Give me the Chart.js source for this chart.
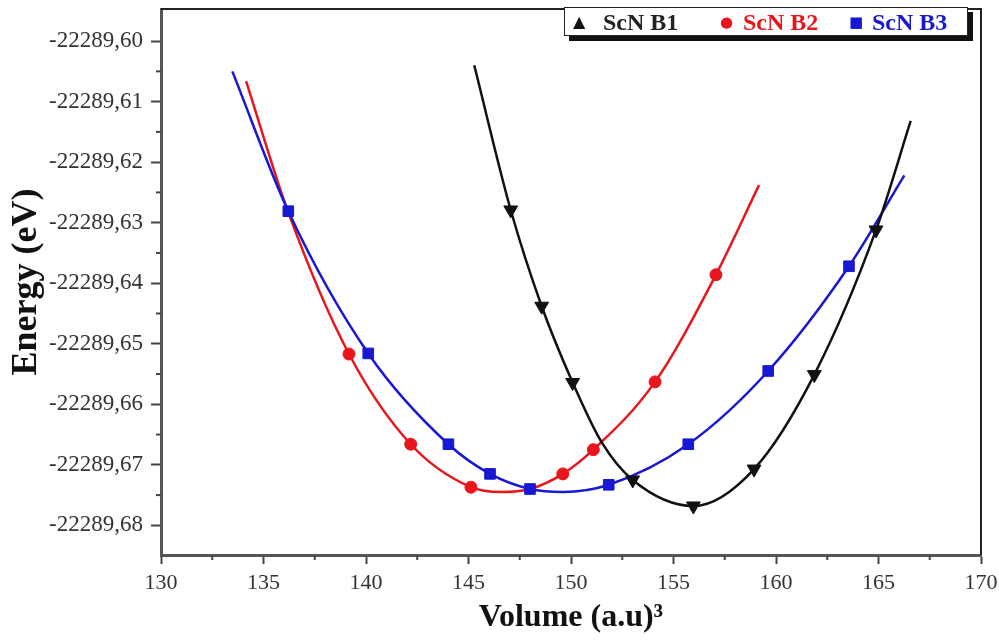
<!DOCTYPE html>
<html>
<head>
<meta charset="utf-8">
<script src="https://cdn.jsdelivr.net/npm/chart.js@4"></script>
<style>
    body { margin: 0; background: #fff; }
    #wrap { position: relative; width: 999px; height: 641px; }
    #legend {
        position: absolute; left: 564px; top: 7px; width: 402px; height: 27px;
        border: 1.5px solid #222; background: #fff; box-shadow: 5px 5px 0 #111;
        font-family: 'Liberation Serif', 'Times New Roman', serif; font-weight: bold; font-size: 24px;
    }
    #legend span { position: absolute; top: 0; line-height: 28px; white-space: nowrap; }
</style>
</head>
<body>
<div id="wrap">
    <canvas id="eosChart" width="999" height="641"></canvas>
    <div id="legend"></div>
</div>
<script>
// Axis ticks
const xTicks = [130, 135, 140, 145, 150, 155, 160, 165, 170];
const yTicks = [-22289.60, -22289.61, -22289.62, -22289.63, -22289.64, -22289.65, -22289.66, -22289.67, -22289.68];

// Legend names / colours
const seriesNames = ['ScN B1', 'ScN B2', 'ScN B3'];
const seriesColors = ['#111111', '#e8161c', '#1818d2'];

// ScN B1 - fitted curve and computed points
const b1CurveV = [145.28, 147.06, 148.57, 150.08, 151.5, 153.01, 155.97, 158.93, 161.87, 164.88, 166.57];
const b1CurveE = [-22289.6040, -22289.6279, -22289.6438, -22289.6564, -22289.6663, -22289.6725, -22289.6768, -22289.6707, -22289.6551, -22289.6312, -22289.6132];
const b1PointV = [147.06, 148.57, 150.08, 153.01, 155.97, 158.93, 161.87, 164.88];
const b1PointE = [-22289.6279, -22289.6438, -22289.6564, -22289.6725, -22289.6768, -22289.6707, -22289.6551, -22289.6312];

// ScN B2
const b2CurveV = [134.15, 136.21, 139.17, 142.18, 145.12, 146.6, 148.0, 149.6, 151.09, 154.1, 157.07, 159.17];
const b2CurveE = [-22289.6066, -22289.6283, -22289.6517, -22289.6666, -22289.6737, -22289.6745, -22289.6740, -22289.6715, -22289.6675, -22289.6563, -22289.6386, -22289.6238];
const b2PointV = [139.17, 142.18, 145.12, 149.6, 151.09, 154.1, 157.07];
const b2PointE = [-22289.6517, -22289.6666, -22289.6737, -22289.6715, -22289.6675, -22289.6563, -22289.6386];

// ScN B3
const b3CurveV = [133.48, 136.21, 140.11, 144.02, 146.05, 148.0, 149.6, 151.84, 155.72, 159.62, 163.56, 166.26];
const b3CurveE = [-22289.6050, -22289.6281, -22289.6516, -22289.6666, -22289.6715, -22289.6740, -22289.6745, -22289.6733, -22289.6666, -22289.6545, -22289.6372, -22289.6222];
const b3PointV = [136.21, 140.11, 144.02, 146.05, 148.0, 151.84, 155.72, 159.62, 163.56];
const b3PointE = [-22289.6281, -22289.6516, -22289.6666, -22289.6715, -22289.6740, -22289.6733, -22289.6666, -22289.6545, -22289.6372];

const toXY = (xs, ys) => xs.map((x, i) => ({ x: x, y: ys[i] }));

function curveSet(xs, ys, color) {
    return {
        data: toXY(xs, ys),
        borderColor: color,
        borderWidth: 2.5,
        pointRadius: 0,
        cubicInterpolationMode: 'monotone',
        fill: false
    };
}

function pointSet(xs, ys, color, style, radius, rotation) {
    return {
        data: toXY(xs, ys),
        showLine: false,
        pointStyle: style,
        pointRadius: radius,
        pointRotation: rotation || 0,
        pointBackgroundColor: color,
        pointBorderColor: color,
        pointBorderWidth: 1
    };
}

// frame around plot + minor ticks
const framePlugin = {
    id: 'frame',
    afterDraw(chart) {
        const { ctx, chartArea: a, scales } = chart;
        ctx.save();
        ctx.strokeStyle = '#444';
        ctx.lineWidth = 2;
        for (let i = 0; i < xTicks.length - 1; i++) {
            const px = scales.x.getPixelForValue((xTicks[i] + xTicks[i + 1]) / 2);
            ctx.beginPath(); ctx.moveTo(px, a.bottom); ctx.lineTo(px, a.bottom + 5); ctx.stroke();
        }
        for (let i = 0; i < yTicks.length - 1; i++) {
            const py = scales.y.getPixelForValue((yTicks[i] + yTicks[i + 1]) / 2);
            ctx.beginPath(); ctx.moveTo(a.left, py); ctx.lineTo(a.left - 5, py); ctx.stroke();
        }
        ctx.strokeStyle = '#222';
        ctx.lineWidth = 2;
        ctx.beginPath();
        ctx.moveTo(a.left, a.top); ctx.lineTo(a.right, a.top); ctx.lineTo(a.right, a.bottom);
        ctx.stroke();
        ctx.restore();
    }
};

const serif = "'Liberation Serif', 'Times New Roman', serif";

new Chart(document.getElementById('eosChart'), {
    type: 'line',
    data: {
        datasets: [
            pointSet(b1PointV, b1PointE, seriesColors[0], 'triangle', 8, 180),
            curveSet(b1CurveV, b1CurveE, seriesColors[0]),
            pointSet(b3PointV, b3PointE, seriesColors[2], 'rect', 7.5),
            curveSet(b3CurveV, b3CurveE, seriesColors[2]),
            pointSet(b2PointV, b2PointE, seriesColors[1], 'circle', 6),
            curveSet(b2CurveV, b2CurveE, seriesColors[1])
        ]
    },
    options: {
        responsive: false,
        animation: false,
        layout: { padding: { left: 0, right: 18, top: 7, bottom: 0 } },
        plugins: { legend: { display: false }, tooltip: { enabled: false } },
        scales: {
            x: {
                type: 'linear',
                min: 130,
                max: 170,
                afterFit: s => { s.height = 86; s.paddingLeft = 0; s.paddingRight = 0; },
                afterBuildTicks: s => { s.ticks = xTicks.map(v => ({ value: v })); },
                border: { color: '#555', width: 3 },
                grid: { drawOnChartArea: false, tickLength: 9, tickWidth: 2, tickColor: '#444' },
                ticks: { color: '#333', padding: 6, maxRotation: 0, font: { family: serif, size: 22 } },
                title: {
                    display: true,
                    text: 'Volume (a.u)³',
                    color: '#111',
                    padding: { top: 0, bottom: 4 },
                    font: { family: serif, size: 32, weight: 'bold' }
                }
            },
            y: {
                type: 'linear',
                min: -22289.6849,
                max: -22289.5947,
                afterFit: s => { s.width = 161; s.paddingTop = 0; s.paddingBottom = 0; },
                afterBuildTicks: s => { s.ticks = yTicks.map(v => ({ value: v })); },
                border: { color: '#555', width: 3 },
                grid: { drawOnChartArea: false, tickLength: 10, tickWidth: 2, tickColor: '#444' },
                ticks: {
                    color: '#333',
                    padding: 8,
                    font: { family: serif, size: 23 },
                    callback: v => v.toFixed(2).replace('.', ',')
                },
                title: {
                    display: true,
                    text: 'Energy (eV)',
                    color: '#111',
                    padding: { top: 5, bottom: 0 },
                    font: { family: serif, size: 36, weight: 'bold' }
                }
            }
        }
    },
    plugins: [framePlugin]
});

// legend box
const legend = document.getElementById('legend');
const symbols = ['▲', '●', '■'];
const symbolLeft = [8, 155, 284];
const symbolSize = [16, 15, 15];
const textLeft = [38, 178, 307];
seriesNames.forEach((name, i) => {
    const s = document.createElement('span');
    s.textContent = symbols[i];
    s.style.left = symbolLeft[i] + 'px';
    s.style.color = seriesColors[i];
    s.style.fontFamily = 'DejaVu Sans';
    s.style.fontSize = symbolSize[i] + 'px';
    legend.appendChild(s);
    const t = document.createElement('span');
    t.textContent = name;
    t.style.left = textLeft[i] + 'px';
    t.style.color = i === 0 ? '#222' : seriesColors[i];
    legend.appendChild(t);
});
</script>
</body>
</html>
